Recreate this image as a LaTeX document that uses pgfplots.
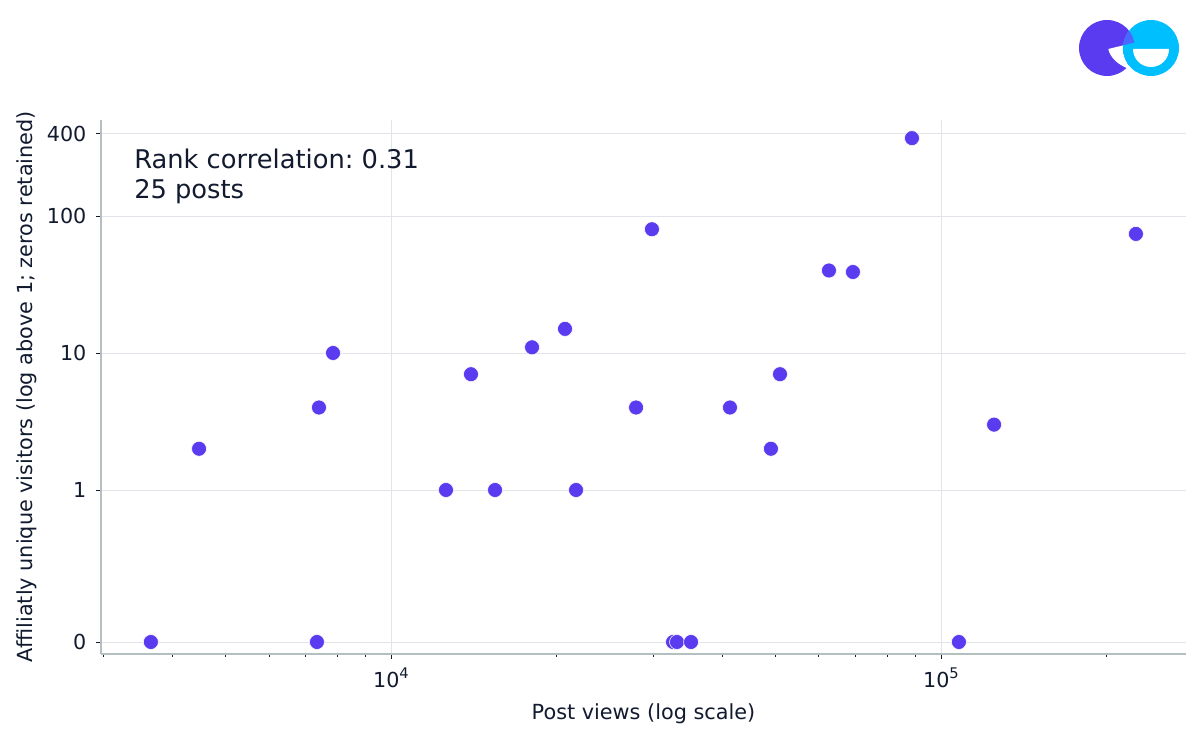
\documentclass[border=0pt]{standalone}
\usepackage{fontspec}
\setmainfont{DejaVu Sans}
\usepackage{pgfplots}
\pgfplotsset{compat=1.18}
\definecolor{ink}{HTML}{111A2E}
\definecolor{gridc}{HTML}{E1E4E8}
\definecolor{spine}{HTML}{B4C0C0}
\definecolor{dotc}{HTML}{5B3BF0}
\definecolor{cyanl}{HTML}{00BFFF}
\definecolor{overl}{HTML}{4A68FF}
\newcommand{\pw}[1]{10\raisebox{0.42em}{\fontsize{11}{13}\selectfont #1}}
\begin{document}
\frenchspacing
\begin{tikzpicture}
\path[use as bounding box] (-75.75pt,-63.75pt) rectangle (824.25pt,490.5pt);
\begin{axis}[
  at={(0pt,0pt)}, anchor=south west,
  scale only axis, width=813.75pt, height=400.5pt,
  xmode=log, log basis x=10,
  xmin=2970, xmax=279000,
  y coord trafo/.code={\ifdim #1pt<0.5pt \edef\pgfmathresult{#1}\else\pgfmathparse{1.1095+log10(#1)}\fi},
  ymin=-0.0876, ymax=502,
  axis lines=left, axis line style={-, draw=spine, line width=1.1pt},
  xtick={10000,100000}, xticklabels={\pw{4},\pw{5}},
  minor xtick={3000,4000,5000,6000,7000,8000,9000,20000,30000,40000,50000,60000,70000,80000,90000,200000},
  ytick={0,1,10,100,400}, yticklabels={0,1,10,100,400},
  xmajorgrids, ymajorgrids,
  grid style={draw=gridc, line width=0.7pt},
  tick align=outside,
  major tick length=3.5pt, minor tick length=2.2pt,
  tick style={draw=ink, line width=0.7pt},
  ticklabel style={font=\fontsize{15.5}{18}\selectfont, text=ink},
  xticklabel style={yshift=-3.5pt},
  yticklabel style={xshift=-4pt},
  xlabel={Post views (log scale)},
  ylabel={Affiliatly unique visitors (log above 1; zeros retained)},
  label style={font=\fontsize{15.6}{18}\selectfont, text=ink},
  xlabel style={yshift=-5pt},
  ylabel style={yshift=0.5pt},
  clip=false,
]
\addplot[only marks, mark=*, mark size=5.6pt, mark options={fill=dotc, draw=white, line width=0.4pt}]
 table[row sep=\\] {
 x y\\
 3660 0\\
 4477 2\\
 7335 0\\
 7397 4\\
 7846 10\\
 12589 1\\
 13977 7\\
 15460 1\\
 18050 11\\
 20720 15\\
 21700 1\\
 27900 4\\
 29820 80\\
 32570 0\\
 33110 0\\
 35120 0\\
 41340 4\\
 49070 2\\
 50970 7\\
 62570 40\\
 69180 39\\
 88570 370\\
 107800 0\\
 124900 3\\
 226200 74\\
 };
\end{axis}
\begin{scope}[x=.75pt,y=-.75pt,shift={(-101,-654)}]
 \node[anchor=west, text=ink, font=\fontsize{19.3}{22.5}\selectfont, align=left, inner sep=0pt] at (134,176.5) {Rank correlation: 0.31\\25 posts};
 % logo
 \fill[dotc] (1107,48) circle[radius=28];
 \fill[white] (1108.3,49) -- (1137,42) -- (1137,72) -- (1127.3,68.3) .. controls (1117,64) and (1110,57) .. cycle;
 \fill[cyanl] (1151,48) circle[radius=28];
 \begin{scope}
  \clip (1151,48) circle[radius=28];
  \fill[overl] (1107,48) circle[radius=28];
  \fill[cyanl] (1108.3,49) -- (1137,42) -- (1137,72) -- (1127.3,68.3) .. controls (1117,64) and (1110,57) .. cycle;
 \end{scope}
 \fill[white] (1133,49) arc[start angle=180, end angle=0, radius=18] -- cycle;
\end{scope}
\end{tikzpicture}
\end{document}
